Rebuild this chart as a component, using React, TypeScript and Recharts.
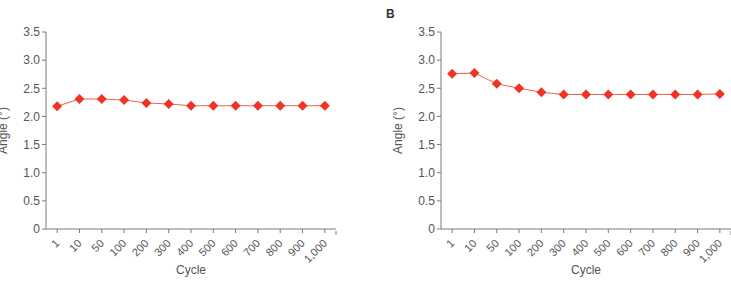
import React from 'react';
import { LineChart, Line, XAxis, YAxis } from 'recharts';

// Fatigue test: angle measured after each number of cycles
const cycles = ['1', '10', '50', '100', '200', '300', '400', '500', '600', '700', '800', '900', '1,000'];
const angleA = [2.18, 2.31, 2.31, 2.29, 2.24, 2.22, 2.19, 2.19, 2.19, 2.19, 2.19, 2.19, 2.19];
const angleB = [2.76, 2.77, 2.58, 2.5, 2.43, 2.39, 2.39, 2.39, 2.39, 2.39, 2.39, 2.39, 2.4];
const yTicks = [0, 0.5, 1.0, 1.5, 2.0, 2.5, 3.0, 3.5];

const FONT = '"Liberation Sans", Arial, Helvetica, sans-serif';
const TEXT = '#555555';
const AXIS = '#7a7a7a';
const LINE = '#f0604f';
const MARK = '#ee3424';

const CHART_H = 281;
const TOP = 32;
const X_AXIS_H = 52;

const Diamond = (props: any) => {
  const { cx, cy } = props;
  if (cx == null || cy == null) return null;
  const r = 5;
  return (
    <polygon
      points={`${cx},${cy - r} ${cx + r},${cy} ${cx},${cy + r} ${cx - r},${cy}`}
      fill={MARK}
      stroke="none"
    />
  );
};

const makeXTick = (halfStep: number, last: number) => (props: any) => {
  const { x, y, payload, index } = props;
  const ax = x + 3;
  const ay = y + 9;
  return (
    <g>
      <text
        x={ax}
        y={ay}
        transform={`rotate(-45, ${ax}, ${ay})`}
        textAnchor="end"
        fontSize={11}
        fontFamily={FONT}
        fill={TEXT}
      >
        {payload.value}
      </text>
      {index === last ? (
        <line x1={x + halfStep} x2={x + halfStep} y1={y - 4} y2={y} stroke={AXIS} strokeWidth={1} />
      ) : null}
    </g>
  );
};

type PanelProps = {
  values: number[];
  left: number;
  width: number;
  yAxisWidth: number;
  rightMargin: number;
};

function Panel({ values, left, width, yAxisWidth, rightMargin }: PanelProps) {
  const data = cycles.map((c, i) => ({ cycle: c, angle: values[i] }));
  const plotW = width - yAxisWidth - rightMargin;
  const halfStep = plotW / cycles.length / 2;
  const XTick = makeXTick(halfStep, cycles.length - 1);

  return (
    <div style={{ position: 'absolute', left, top: 0 }}>
      <LineChart
        width={width}
        height={CHART_H}
        data={data}
        margin={{ top: TOP, right: rightMargin, bottom: 0, left: 0 }}
      >
        <XAxis
          dataKey="cycle"
          type="category"
          interval={0}
          height={X_AXIS_H}
          padding={{ left: halfStep, right: halfStep }}
          tickSize={4}
          axisLine={{ stroke: AXIS, strokeWidth: 1 }}
          tickLine={{ stroke: AXIS, strokeWidth: 1 }}
          tick={<XTick />}
          label={(p: any) => {
            const vb = p.viewBox;
            return (
              <text
                x={vb.x + vb.width / 2}
                y={vb.y + 41}
                textAnchor="middle"
                dominantBaseline="central"
                fontSize={12}
                fontFamily={FONT}
                fill={TEXT}
              >
                Cycle
              </text>
            );
          }}
        />
        <YAxis
          type="number"
          domain={[0, 3.5]}
          ticks={yTicks}
          width={yAxisWidth}
          tickSize={4}
          tickMargin={2}
          axisLine={{ stroke: AXIS, strokeWidth: 1 }}
          tickLine={{ stroke: AXIS, strokeWidth: 1 }}
          tickFormatter={(v: number) => (v === 0 ? '0' : v.toFixed(1))}
          tick={{ fontSize: 12, fontFamily: FONT, fill: TEXT }}
          label={(p: any) => {
            const vb = p.viewBox;
            const cx = yAxisWidth - 43.5;
            const cy = vb.y + vb.height / 2;
            return (
              <text
                x={cx}
                y={cy}
                transform={`rotate(-90, ${cx}, ${cy})`}
                textAnchor="middle"
                dominantBaseline="central"
                fontSize={12}
                fontFamily={FONT}
                fill={TEXT}
              >
                Angle (°)
              </text>
            );
          }}
        />
        <Line
          type="linear"
          dataKey="angle"
          stroke={LINE}
          strokeWidth={1}
          dot={<Diamond />}
          activeDot={false}
          isAnimationActive={false}
        />
      </LineChart>
    </div>
  );
}

export default function App() {
  return (
    <div
      style={{
        position: 'absolute',
        left: 0,
        top: 0,
        width: 731,
        height: 281,
        background: '#ffffff',
        overflow: 'hidden',
        fontFamily: FONT,
      }}
    >
      <Panel values={angleA} left={0} width={365} yAxisWidth={46} rightMargin={29} />
      <Panel values={angleB} left={385} width={346} yAxisWidth={56} rightMargin={0} />
      <div
        style={{
          position: 'absolute',
          left: 386,
          top: 8,
          fontSize: 12,
          lineHeight: '12px',
          fontWeight: 'bold',
          color: '#333333',
        }}
      >
        B
      </div>
    </div>
  );
}
